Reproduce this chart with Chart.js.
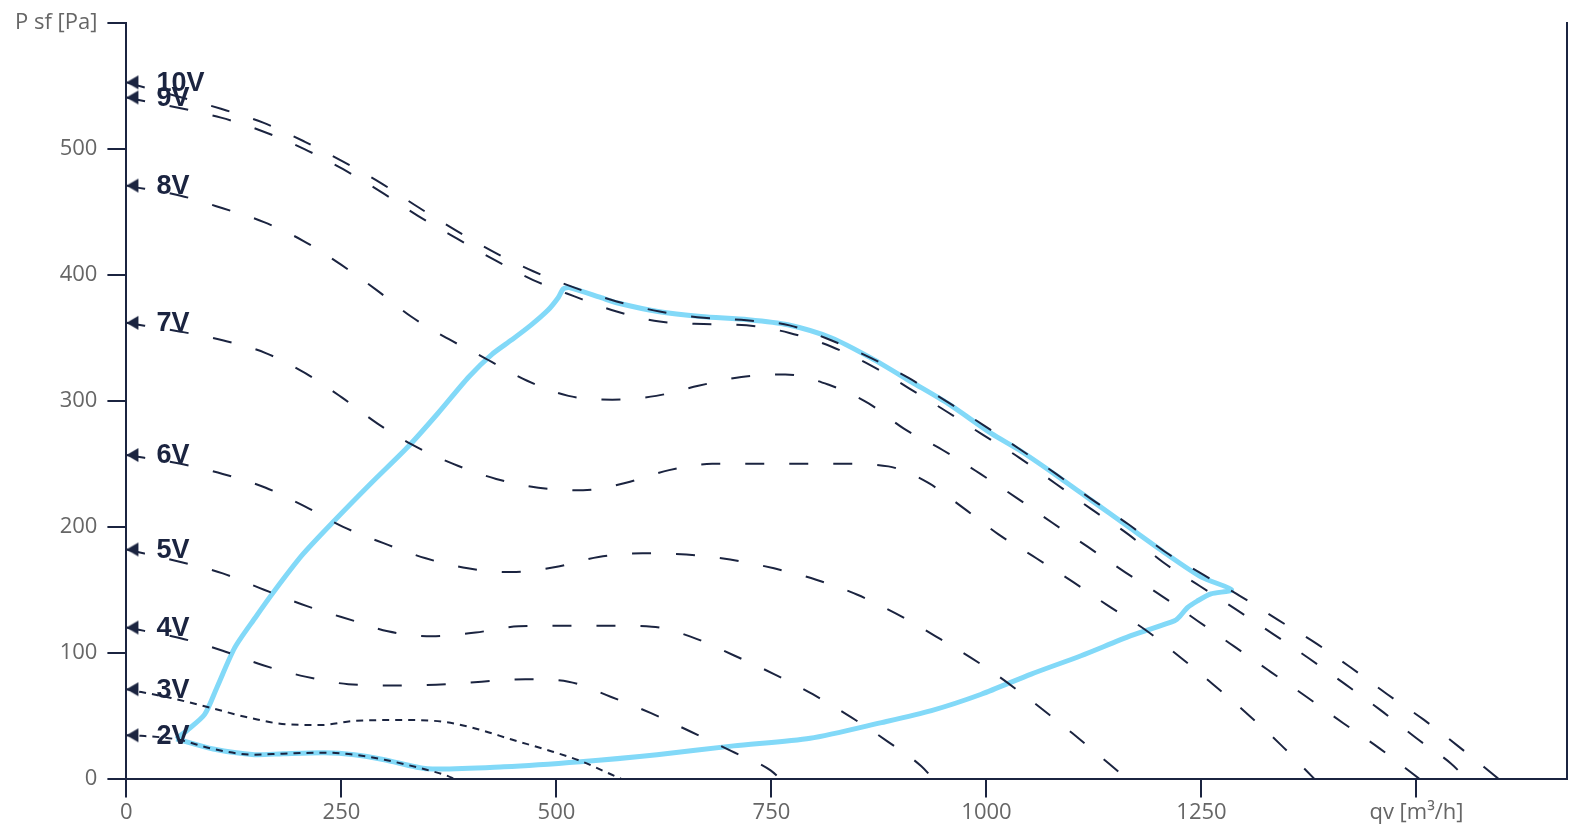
<!DOCTYPE html>
<html>
<head>
<meta charset="utf-8">
<script src="https://cdn.jsdelivr.net/npm/chart.js@4.4.1/dist/chart.umd.min.js"></script>
<style>
    html, body { margin: 0; padding: 0; background: #fff; }
    #fanChart { display: block; }
</style>
</head>
<body>
<canvas id="fanChart" width="1588" height="834"></canvas>
<script>
// fan curves per control voltage: [qv m3/h, P sf Pa]
const curve10V = [[0,553],[110,532],[159,521],[207,506],[252,490],[296,473],[339,454],[384,435],[428,418],[473,403],[521,390],[570,379],[620,371],[671,366],[721,364],[771,360],[820,348],[866,334],[910,318],[955,299],[996,281],[1038,262],[1081,242],[1122,222],[1165,202],[1208,180],[1252,162],[1295,145],[1339,126],[1382,108],[1424,88],[1466,67],[1508,47],[1548,26],[1595,0]];
const curve9V = [[0,541],[110,525],[159,514],[207,500],[252,484],[296,466],[339,447],[384,429],[428,412],[473,396],[521,383],[570,371],[620,363],[671,361],[721,360],[771,354],[820,343],[866,328],[910,310],[955,291],[996,273],[1038,255],[1081,234],[1122,214],[1165,194],[1205,172],[1248,153],[1291,134],[1333,115],[1376,95],[1417,75],[1459,54],[1500,32],[1540,12],[1558,0]];
const curve8V = [[0,471],[63,463],[112,453],[160,442],[206,427],[250,408],[291,388],[331,367],[375,349],[414,335],[466,316],[514,304],[565,301],[616,304],[665,312],[715,319],[766,321],[816,313],[863,298],[904,278],[949,261],[993,242],[1035,223],[1077,203],[1118,184],[1161,164],[1204,145],[1246,125],[1288,105],[1330,85],[1372,65],[1415,44],[1457,24],[1503,0]];
const curve7V = [[0,362],[63,355],[113,348],[162,338],[208,322],[250,303],[292,282],[330,266],[380,250],[430,238],[479,231],[531,229],[581,235],[631,245],[681,250],[732,250],[782,250],[834,250],[886,248],[932,235],[973,215],[1014,194],[1058,175],[1101,156],[1140,138],[1185,118],[1226,96],[1265,74],[1304,51],[1342,27],[1381,0]];
const curve6V = [[0,257],[63,250],[112,242],[162,231],[208,216],[252,200],[299,187],[348,175],[397,167],[448,164],[499,168],[549,176],[600,179],[651,178],[702,174],[753,167],[802,158],[850,146],[895,131],[941,113],[1000,88],[1050,63],[1100,36],[1163,0]];
const curve5V = [[0,182],[63,172],[112,163],[160,150],[210,137],[266,125],[304,117],[355,113],[406,116],[456,121],[508,121.5],[559,121.5],[611,120.7],[659,112],[706,98],[753,83],[798,67],[842,49],[884,30],[924,10],[938,0]];
const curve4V = [[0,120],[63,111.5],[112,101.6],[159,90],[208,81],[258,75],[310,74],[360,74.5],[413,77],[464,79],[514,77],[563,65],[610,52],[657,37],[703,22],[749,6.5],[760,0]];
const curve3V = [[0,71],[52,64],[99,56],[145,48],[188,43],[227,42.6],[265,45.8],[320,46.5],[370,45],[410,39],[448,31],[488,23],[528,14],[568,2],[575,0]];
const curve2V = [[0,34.4],[17,34],[60,31],[101,23.5],[149,19],[182,19.8],[230,20.6],[265,19],[300,15],[349,7],[374,2],[380,0]];

// working range envelope (closed loop)
const envelope = [[58,31.5],[70,38],[91,51],[105,72],[126,104],[150,128],[172,149],[205,178],[242,205],[285,235],[328,264],[362,290],[398,319],[425,337],[448,348.5],[470,360],[490,372],[502,382],[508,389],[515,390],[552,382],[570,378],[618,371],[668,367],[723,364.5],[769,360.5],[820,350],[866,334],[913,315],[955,298],[1006,274],[1038,261],[1081,241],[1122,221],[1165,200],[1208,179],[1250,160],[1285,150],[1261,146.7],[1245,141],[1234,136],[1225,129],[1219,125.5],[1168,113.5],[1110,97.6],[1052,83],[994,67],[936,54],[878,44.5],[795,32],[706,26],[617,19],[528,13.4],[439,9.4],[350,7.8],[300,15],[265,19],[230,20.6],[182,19.8],[149,19],[101,23.5],[58,31.5]];

const voltageLabels = ['10V', '9V', '8V', '7V', '6V', '5V', '4V', '3V', '2V'];
const voltageCurves = [curve10V, curve9V, curve8V, curve7V, curve6V, curve5V, curve4V, curve3V, curve2V];

const xTicks = [0, 250, 500, 750, 1000, 1250, 1500];
const yTicks = [0, 100, 200, 300, 400, 500, 600];
const xTitle = 'qv [m³/h]';
const yTitle = 'P sf [Pa]';

const navy = '#1b2440';
const blue = '#82d9f8';

// left pointing arrow, tip at the centre so it sits on the axis
function makeArrow() {
    const c = document.createElement('canvas');
    c.width = 28;
    c.height = 16;
    const g = c.getContext('2d');
    g.fillStyle = navy;
    g.beginPath();
    g.moveTo(14, 8);
    g.lineTo(26, 1);
    g.lineTo(26, 15);
    g.closePath();
    g.fill();
    return c;
}
const arrow = makeArrow();

const toPoints = arr => arr.map(p => ({ x: p[0], y: p[1] }));

const datasets = voltageCurves.map((curve, i) => {
    const shortDash = voltageLabels[i] === '3V' || voltageLabels[i] === '2V';
    return {
        label: voltageLabels[i],
        data: toPoints(curve),
        borderColor: navy,
        borderWidth: 2,
        borderDash: shortDash ? [7, 6] : [19, 25],
        cubicInterpolationMode: 'monotone',
        fill: false,
        pointStyle: arrow,
        pointRadius: ctx => ctx.dataIndex === 0 ? 7 : 0,
        pointHoverRadius: 0,
        order: 0
    };
});

datasets.push({
    label: 'envelope',
    data: toPoints(envelope),
    borderColor: blue,
    borderWidth: 5,
    tension: 0.25,
    fill: false,
    pointRadius: 0,
    order: 1
});

// voltage names next to the arrows
const voltageTags = {
    id: 'voltageTags',
    afterDatasetsDraw(chart) {
        const { ctx, scales: { x, y } } = chart;
        ctx.save();
        ctx.fillStyle = navy;
        ctx.font = 'bold 27px "Liberation Sans", Arial, sans-serif';
        ctx.textBaseline = 'middle';
        ctx.textAlign = 'left';
        voltageCurves.forEach((curve, i) => {
            ctx.fillText(voltageLabels[i], x.getPixelForValue(curve[0][0]) + 30, y.getPixelForValue(curve[0][1]) + 1);
        });
        ctx.restore();
    }
};

Chart.defaults.font.family = '"Open Sans", sans-serif';
Chart.defaults.font.size = 22;
Chart.defaults.color = '#666';

new Chart(document.getElementById('fanChart'), {
    type: 'line',
    data: { datasets },
    plugins: [voltageTags],
    options: {
        responsive: false,
        animation: false,
        layout: { padding: { left: 5, right: 21, top: 0, bottom: 6 } },
        plugins: {
            legend: { display: false },
            tooltip: { enabled: false }
        },
        scales: {
            x: {
                type: 'linear',
                min: 0,
                max: 1675,
                afterBuildTicks: axis => { axis.ticks = xTicks.map(v => ({ value: v })); },
                ticks: {
                    autoSkip: false,
                    maxRotation: 0,
                    padding: 2,
                    callback: v => v === 1500 ? xTitle : v
                },
                grid: { display: true, drawOnChartArea: false, drawTicks: true, tickLength: 19, color: navy, lineWidth: 2 },
                border: { display: true, color: navy, width: 2 }
            },
            y: {
                type: 'linear',
                min: 0,
                max: 600,
                afterBuildTicks: axis => { axis.ticks = yTicks.map(v => ({ value: v })); },
                ticks: {
                    autoSkip: false,
                    padding: 10,
                    callback: v => v === 600 ? yTitle : v
                },
                grid: { display: true, drawOnChartArea: false, drawTicks: true, tickLength: 19, color: navy, lineWidth: 2 },
                border: { display: true, color: navy, width: 2 }
            },
            yRight: {
                type: 'linear',
                position: 'right',
                min: 0,
                max: 600,
                ticks: { display: false },
                grid: { display: false, drawTicks: false },
                border: { display: true, color: navy, width: 2 }
            }
        }
    }
});
</script>
</body>
</html>
